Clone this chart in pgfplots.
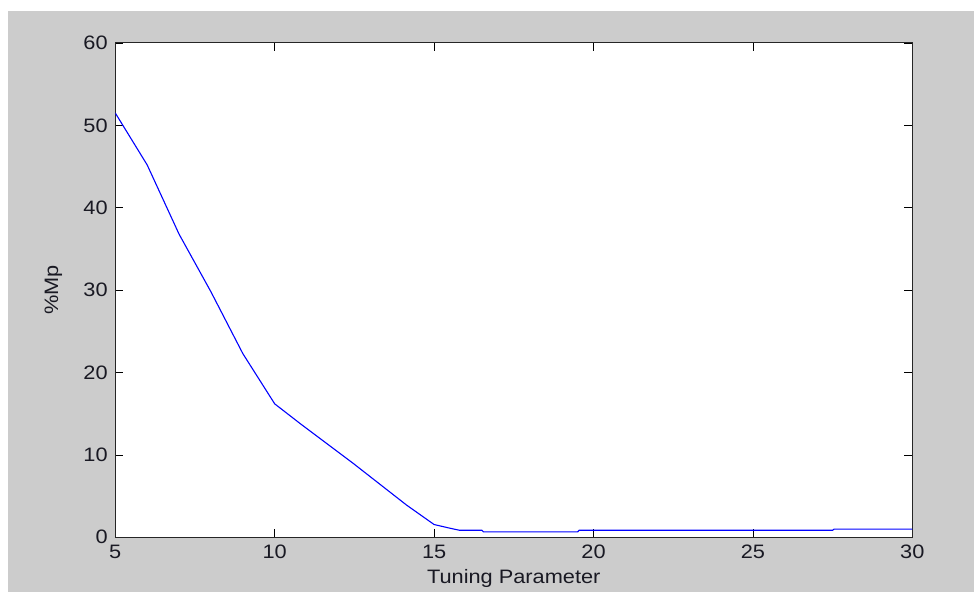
\documentclass[border=0pt]{standalone}
\usepackage{fontspec}
\setmainfont[FakeStretch=1.12]{Liberation Sans}
\usepackage{pgfplots}
\pgfplotsset{compat=1.18}
\definecolor{figgray}{RGB}{204,204,204}
\definecolor{txt}{RGB}{25,25,35}
\begin{document}
\fontsize{19.5}{23}\selectfont
\begin{tikzpicture}
\path[fill=white] (0bp,0bp) rectangle (974bp,592bp);
\path[fill=figgray] (8bp,0bp) rectangle (974bp,581bp);
\begin{axis}[
  at={(115.3bp,54.7bp)}, anchor=south west,
  scale only axis, width=797bp, height=494.3bp,
  xmin=5, xmax=30, ymin=0, ymax=60,
  xtick={5,10,15,20,25,30}, ytick={0,10,20,30,40,50,60},
  tick pos=both, tick align=inside, major tick length=8bp,
  every tick/.style={black, line width=0.8bp},
  axis line style={black!85, line width=1bp},
  axis background/.style={fill=white},
  /pgf/number format/assume math mode=true,
  ticklabel style={font=\fontsize{19.5}{23}\selectfont, text=txt},
  yticklabel style={xshift=-1bp},
  xticklabel style={yshift=-1bp},
  xlabel={Tuning Parameter}, ylabel={\%Mp},
  label style={font=\fontsize{19.5}{23}\selectfont, text=txt},
  xlabel style={yshift=2bp},
  ylabel style={yshift=8bp},
]
\addplot[blue, line width=1.1bp] coordinates {
(5,51.5) (6,45.2) (7,36.8) (8,29.8) (9,22.3) (10,16.2) (10.8,13.8) (12.47,8.95) (14.14,3.9) (15,1.55) (15.5,1.1) (15.8,0.85) (16.5,0.85) (16.55,0.65) (19.5,0.65) (19.55,0.85) (27.5,0.85) (27.55,1.0) (30,1.0)
};
\end{axis}
\end{tikzpicture}
\end{document}
